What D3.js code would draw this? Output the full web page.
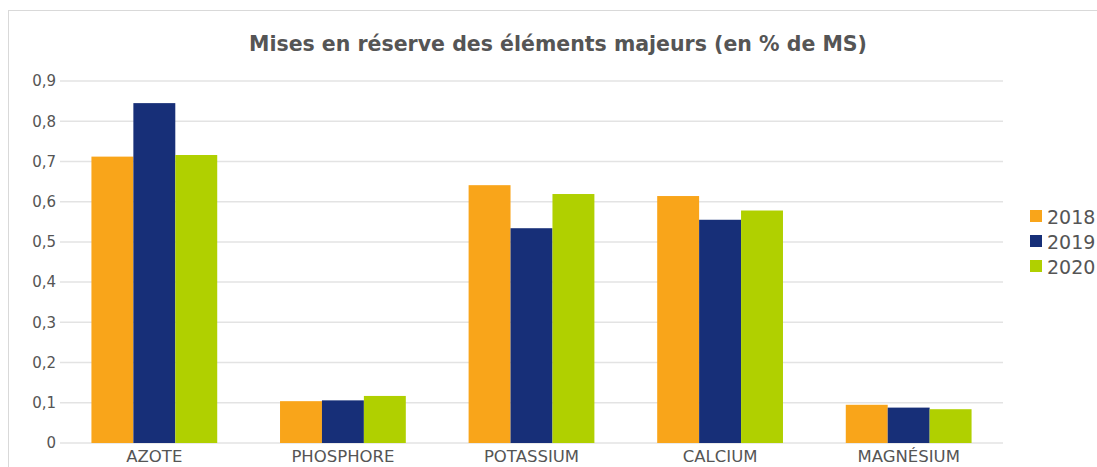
<!DOCTYPE html>
<html>
<head>
<meta charset="utf-8">
<script src="https://cdn.jsdelivr.net/npm/d3@7"></script>
<style>
  body { margin: 0; background: #fff; }
  text { font-family: "DejaVu Sans", sans-serif; fill: #555; }
</style>
</head>
<body>
<script>
var categories = ["AZOTE", "PHOSPHORE", "POTASSIUM", "CALCIUM", "MAGNÉSIUM"];
var years = ["2018", "2019", "2020"];
var values2018 = [0.712, 0.104, 0.641, 0.614, 0.095];
var values2019 = [0.845, 0.106, 0.534, 0.555, 0.088];
var values2020 = [0.716, 0.117, 0.619, 0.578, 0.084];
var yTicks = [0, 0.1, 0.2, 0.3, 0.4, 0.5, 0.6, 0.7, 0.8, 0.9];
var colors = ["#F9A51A", "#172F78", "#B0D000"];

var series = [values2018, values2019, values2020];

var svg = d3.select("body").append("svg")
    .attr("width", 1097)
    .attr("height", 467);

// outer frame
svg.append("rect")
    .attr("x", 8.5).attr("y", 10.5)
    .attr("width", 1100).attr("height", 500)
    .attr("fill", "none").attr("stroke", "#d9d9d9");

svg.append("text")
    .attr("x", 558).attr("y", 51)
    .attr("text-anchor", "middle")
    .attr("font-size", "20.5px")
    .attr("font-weight", "bold")
    .text("Mises en réserve des éléments majeurs (en % de MS)");

var x = d3.scaleBand().domain(categories).range([60, 1003])
    .paddingInner(0.333).paddingOuter(0.1667);
var xs = d3.scaleBand().domain(years).range([0, x.bandwidth()]);
var y = d3.scaleLinear().domain([0, 0.9]).range([443, 81]);

// gridlines
svg.selectAll("line.grid")
    .data(yTicks)
    .enter().append("line")
    .attr("class", "grid")
    .attr("x1", 60).attr("x2", 1003)
    .attr("y1", function(d) { return y(d); })
    .attr("y2", function(d) { return y(d); })
    .attr("stroke", "#e3e3e3").attr("stroke-width", 1.5);

// y axis labels
var yAxis = svg.append("g").attr("transform", "translate(60,0)")
    .call(d3.axisLeft(y).tickValues(yTicks).tickSize(0).tickPadding(4)
        .tickFormat(function(d) { return d === 0 ? "0" : d3.format(".1f")(d).replace(".", ","); }));
yAxis.select(".domain").remove();
yAxis.selectAll("text").attr("font-size", "15px").style("fill", "#555");

// bars
series.forEach(function(vals, si) {
    svg.selectAll("rect.s" + si)
        .data(vals)
        .enter().append("rect")
        .attr("class", "s" + si)
        .attr("x", function(d, i) { return x(categories[i]) + xs(years[si]); })
        .attr("y", function(d) { return y(d); })
        .attr("width", xs.bandwidth())
        .attr("height", function(d) { return y(0) - y(d); })
        .attr("fill", colors[si]);
});

// x axis labels
var xAxis = svg.append("g").attr("transform", "translate(0,443)")
    .call(d3.axisBottom(x).tickSize(0).tickPadding(7));
xAxis.select(".domain").remove();
xAxis.selectAll("text").attr("font-size", "16.5px").style("fill", "#555");

// legend
var legend = svg.selectAll("g.leg")
    .data(years)
    .enter().append("g")
    .attr("class", "leg")
    .attr("transform", function(d, i) { return "translate(1030," + (210 + i * 25) + ")"; });
legend.append("rect")
    .attr("width", 12).attr("height", 12)
    .attr("fill", function(d, i) { return colors[i]; });
legend.append("text")
    .attr("x", 17).attr("y", 13.5)
    .attr("font-size", "19px")
    .text(function(d) { return d; });
</script>
</body>
</html>
